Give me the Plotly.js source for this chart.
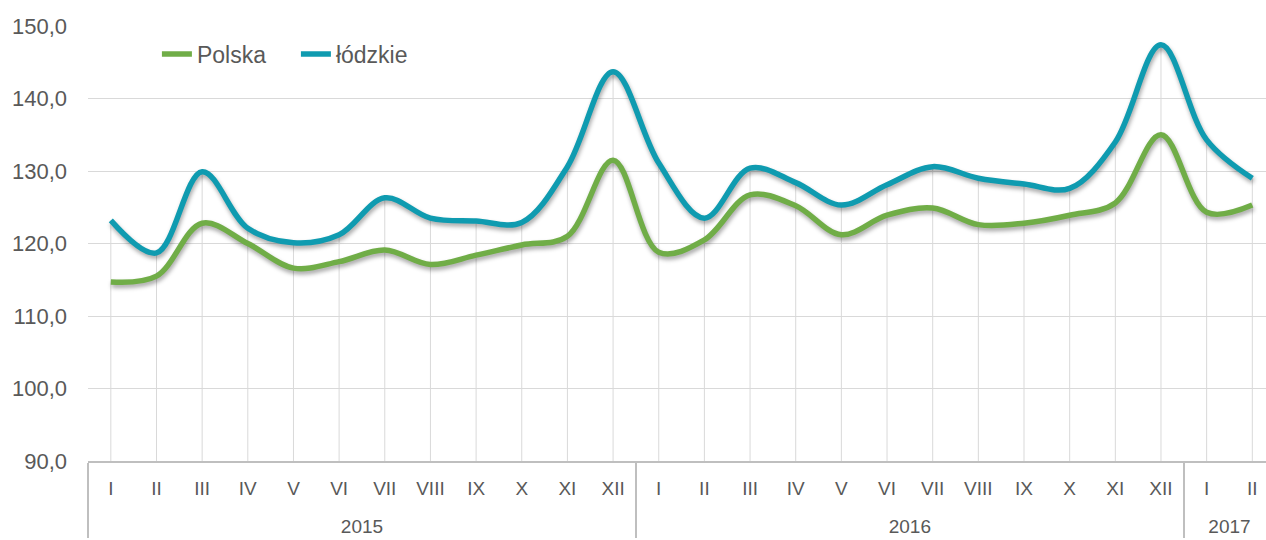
<!DOCTYPE html>
<html><head><meta charset="utf-8">
<script src="https://cdn.plot.ly/plotly-3.0.1.min.js"></script>
<style>html,body{margin:0;padding:0;background:#fff}#chart{width:1266px;height:540px}
.scatterlayer .trace:nth-child(n+2) .js-line{filter:drop-shadow(1px 3px 2px rgba(0,0,0,0.35));}
</style>
</head><body><div id="chart"></div>
<script>
const years = ["2015","2015","2015","2015","2015","2015","2015","2015","2015","2015","2015","2015",
               "2016","2016","2016","2016","2016","2016","2016","2016","2016","2016","2016","2016",
               "2017","2017"];
const months = ["I","II","III","IV","V","VI","VII","VIII","IX","X","XI","XII",
                "I","II","III","IV","V","VI","VII","VIII","IX","X","XI","XII",
                "I","II"];
const polska = [114.7,115.5,122.8,120.0,116.6,117.5,119.1,117.1,118.4,119.8,121.0,131.5,
                118.8,120.5,126.7,125.2,121.2,123.9,124.9,122.6,122.8,123.9,125.6,135.0,
                124.3,125.3];
const lodzkie = [123.2,118.7,129.9,122.1,120.1,121.2,126.3,123.5,123.1,122.9,130.6,143.7,
                 131.1,123.5,130.4,128.4,125.3,128.1,130.6,129.0,128.2,127.6,134.0,147.4,
                 134.3,129.0];

const font = "Arial, 'Liberation Sans', sans-serif";

// year labels get an empty first line so they sit lower, as in the original
const yearCats = years.map(y => " <br>" + y);

// drop lines from the axis base to the higher of the two series
const yBase = 90;
const dropX0 = [], dropX1 = [], dropY = [];
months.forEach((m, i) => {
  const top = Math.max(polska[i], lodzkie[i]);
  for (const v of [yBase, top, null]) { dropX0.push(yearCats[i]); dropX1.push(m); dropY.push(v); }
});

const traces = [
  {x:[dropX0, dropX1], y:dropY, type:"scatter", mode:"lines", showlegend:false, hoverinfo:"skip",
   connectgaps:false, line:{color:"#d9d9d9", width:1}},
  {x:[yearCats,months], y:polska, name:"Polska", type:"scatter", mode:"lines",
   line:{color:"#70ad47", width:5.5, shape:"spline", smoothing:1}},
  {x:[yearCats,months], y:lodzkie, name:"łódzkie", type:"scatter", mode:"lines",
   line:{color:"#0f9bb0", width:5.5, shape:"spline", smoothing:1}}
];
const layout = {
  width:1266, height:540,
  margin:{l:88, r:0, t:26, b:79},
  paper_bgcolor:"#fff", plot_bgcolor:"#fff",
  separators:", ",
  showlegend:true,
  legend:{orientation:"h", x:0.0585, y:0.985, xanchor:"left", yanchor:"top",
          font:{family:font, size:23, color:"#595959"}, bgcolor:"rgba(0,0,0,0)",
          entrywidth:94, entrywidthmode:"pixels", tracegroupgap:0},
  xaxis:{type:"multicategory", range:[-0.5,25.3],
         showgrid:false,
         showline:true, linecolor:"#bfbfbf", linewidth:1.5,
         showdividers:true, dividercolor:"#bfbfbf", dividerwidth:1.5,
         ticks:"", ticklabelstandoff:10,
         tickfont:{family:font, size:19, color:"#595959"}},
  yaxis:{range:[90,150], dtick:10, tick0:90, tickformat:".1f",
         showgrid:true, gridcolor:"#d9d9d9", gridwidth:1, zeroline:false,
         showline:false, ticks:"", ticklabelstandoff:20,
         tickfont:{family:font, size:22, color:"#595959"}}
};
Plotly.newPlot("chart", traces, layout, {displayModeBar:false, staticPlot:true});
</script></body></html>
